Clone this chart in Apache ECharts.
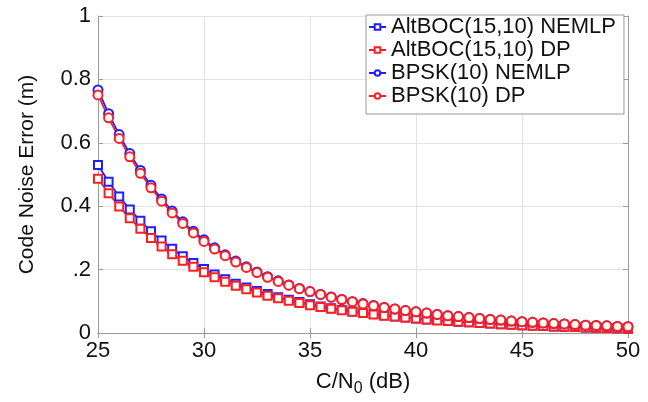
<!DOCTYPE html>
<html>
<head>
<meta charset="utf-8">
<script src="https://cdn.jsdelivr.net/npm/echarts@6/dist/echarts.min.js"></script>
<style>html,body{margin:0;padding:0;background:#fff}#c{width:648px;height:402px}</style>
</head>
<body>
<div id="c"></div>
<script>
var xVals = [25,25.5,26,26.5,27,27.5,28,28.5,29,29.5,30,30.5,31,31.5,32,32.5,33,33.5,34,34.5,35,35.5,36,36.5,37,37.5,38,38.5,39,39.5,40,40.5,41,41.5,42,42.5,43,43.5,44,44.5,45,45.5,46,46.5,47,47.5,48,48.5,49,49.5,50];
var altNEMLP = [0.530,0.477,0.431,0.390,0.354,0.321,0.292,0.266,0.242,0.221,0.202,0.185,0.170,0.156,0.144,0.133,0.123,0.113,0.105,0.098,0.091,0.084,0.078,0.073,0.068,0.064,0.060,0.056,0.052,0.049,0.046,0.043,0.041,0.038,0.036,0.034,0.032,0.030,0.028,0.027,0.025,0.024,0.022,0.021,0.020,0.019,0.018,0.017,0.016,0.015,0.014];
var altDP = [0.487,0.441,0.399,0.362,0.329,0.300,0.273,0.249,0.228,0.209,0.192,0.176,0.162,0.149,0.138,0.128,0.118,0.110,0.102,0.095,0.088,0.082,0.077,0.072,0.067,0.063,0.059,0.055,0.052,0.049,0.046,0.043,0.040,0.038,0.036,0.034,0.032,0.030,0.028,0.026,0.025,0.023,0.022,0.021,0.020,0.019,0.018,0.017,0.016,0.015,0.014];
var bpskNEMLP = [0.767,0.692,0.626,0.566,0.513,0.466,0.423,0.385,0.351,0.321,0.294,0.269,0.247,0.227,0.209,0.193,0.178,0.165,0.152,0.141,0.131,0.122,0.114,0.106,0.099,0.093,0.087,0.081,0.076,0.071,0.067,0.063,0.059,0.055,0.052,0.049,0.046,0.043,0.041,0.038,0.036,0.034,0.032,0.030,0.029,0.027,0.025,0.024,0.023,0.021,0.020];
var bpskDP = [0.751,0.679,0.614,0.556,0.504,0.458,0.416,0.379,0.346,0.316,0.289,0.265,0.244,0.224,0.207,0.191,0.176,0.163,0.151,0.140,0.131,0.122,0.113,0.106,0.099,0.092,0.086,0.081,0.076,0.071,0.067,0.063,0.059,0.055,0.052,0.049,0.046,0.043,0.041,0.038,0.036,0.034,0.032,0.030,0.029,0.027,0.025,0.024,0.023,0.021,0.020];
var seriesNames = ['AltBOC(15,10) NEMLP','AltBOC(15,10) DP','BPSK(10) NEMLP','BPSK(10) DP'];
var xTicks = [25,30,35,40,45,50];
var yTickLabels = ['0','.2','0.4','0.6','0.8','1'];

var FONT = 'Liberation Sans, Arial, Helvetica, sans-serif';
var BLUE = '#1f1fff', RED = '#ff1f1f';
function pairs(ys){ return xVals.map(function(x,i){ return [x, ys[i]]; }); }
function mk(name, ys, color, sym, size){
  return {
    name: name, type: 'line', data: pairs(ys),
    symbol: sym, symbolSize: size, showAllSymbol: true,
    lineStyle: {color: color, width: 1.8},
    itemStyle: {color: color, borderColor: color, borderWidth: 1.4},
    emphasis: {disabled: true}, z: 3
  };
}
var chart = echarts.init(document.getElementById('c'), null, {renderer: 'canvas'});
var axisLineStyle = {color: '#9a9a9a', width: 1};
chart.setOption({
  animation: false,
  backgroundColor: '#fff',
  textStyle: {fontFamily: FONT},
  grid: {left: 98, right: 20, top: 16, bottom: 64, containLabel: false},
  legend: {
    orient: 'vertical', left: 366, top: 15,
    data: seriesNames,
    itemWidth: 17, itemHeight: 7, itemGap: 1,
    padding: [1, 8, 7, 2],
    backgroundColor: '#fff', borderColor: '#9a9a9a', borderWidth: 1,
    textStyle: {fontSize: 22, lineHeight: 22, color: '#111', fontFamily: FONT},
    selectedMode: false
  },
  xAxis: [{
    type: 'value', min: 25, max: 50, interval: 5,
    name: '{a|C/N}{s|0}{a| (dB)}', nameLocation: 'middle', nameGap: 34,
    nameTextStyle: {rich: {
      a: {fontSize: 22, fontFamily: FONT, color: '#111', lineHeight: 24},
      s: {fontSize: 16, fontFamily: FONT, color: '#111', lineHeight: 24, padding: [14, 0, 0, 0]}
    }},
    axisLine: {show: true, lineStyle: axisLineStyle},
    axisTick: {show: true, inside: true, length: 5, lineStyle: axisLineStyle},
    axisLabel: {fontSize: 22, color: '#111', margin: 7, fontFamily: FONT,
      formatter: function(v){ return xTicks.indexOf(v) >= 0 ? String(v) : ''; }},
    splitLine: {show: true, lineStyle: {color: '#e4e4e4', width: 1}}
  }, {
    type: 'value', position: 'top', min: 25, max: 50, interval: 5,
    axisLine: {show: true, lineStyle: axisLineStyle},
    axisTick: {show: true, inside: true, length: 5, lineStyle: axisLineStyle},
    axisLabel: {show: false}, splitLine: {show: false}
  }],
  yAxis: [{
    type: 'value', min: 0, max: 1, interval: 0.2,
    name: 'Code Noise Error (m)', nameLocation: 'middle', nameGap: 60, nameRotate: 90,
    nameTextStyle: {fontSize: 21, color: '#111', fontFamily: FONT},
    axisLine: {show: true, lineStyle: axisLineStyle},
    axisTick: {show: true, inside: true, length: 5, lineStyle: axisLineStyle},
    axisLabel: {fontSize: 22, color: '#111', margin: 7, fontFamily: FONT,
      formatter: function(v){ var i = Math.round(v / 0.2); return yTickLabels[i] !== undefined ? yTickLabels[i] : ''; }},
    splitLine: {show: true, lineStyle: {color: '#e4e4e4', width: 1}}
  }, {
    type: 'value', position: 'right', min: 0, max: 1, interval: 0.2,
    axisLine: {show: true, lineStyle: axisLineStyle},
    axisTick: {show: true, inside: true, length: 5, lineStyle: axisLineStyle},
    axisLabel: {show: false}, splitLine: {show: false}
  }],
  series: [
    mk(seriesNames[0], altNEMLP, BLUE, 'emptyRect', 8),
    mk(seriesNames[1], altDP, RED, 'emptyRect', 8),
    mk(seriesNames[2], bpskNEMLP, BLUE, 'emptyCircle', 9),
    mk(seriesNames[3], bpskDP, RED, 'emptyCircle', 9)
  ]
});
</script>
</body>
</html>
